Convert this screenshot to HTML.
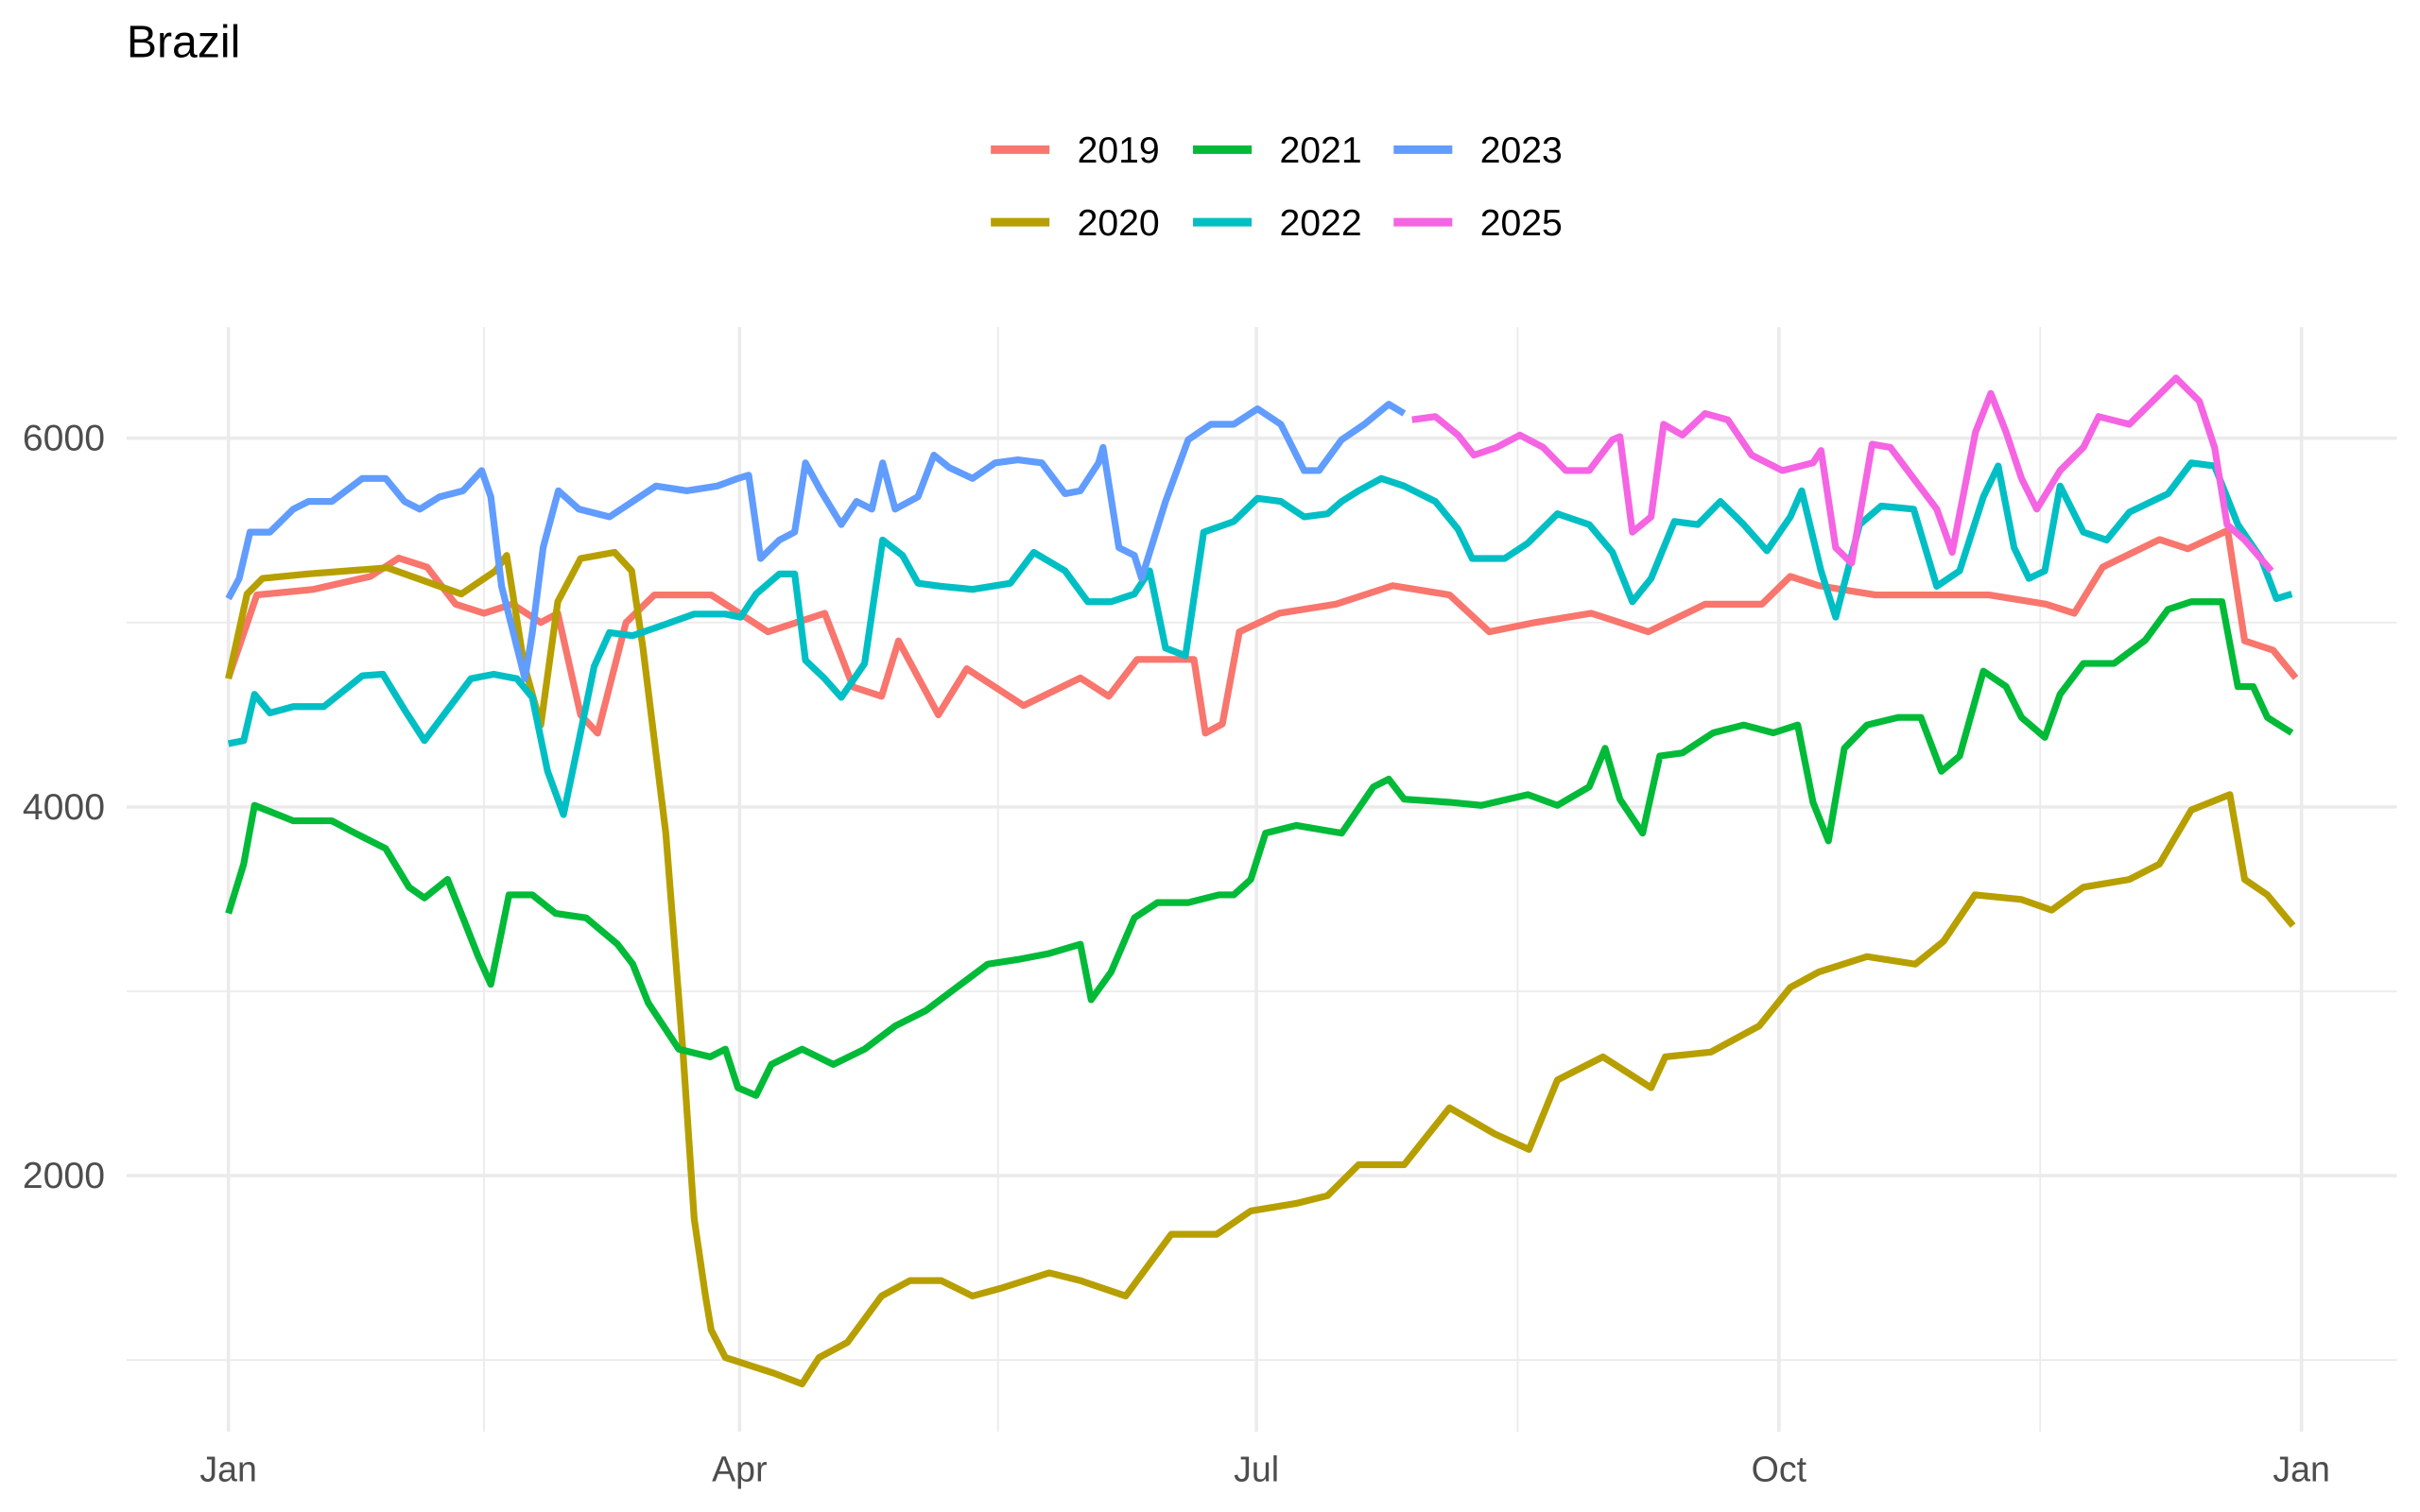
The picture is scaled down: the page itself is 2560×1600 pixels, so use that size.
<!DOCTYPE html>
<html><head><meta charset="utf-8"><style>
html,body{margin:0;padding:0;background:#fff;}
svg{display:block;font-family:"Liberation Sans",sans-serif;}
</style></head><body>
<svg id="chart" width="2560" height="1600" viewBox="0 0 1568 980" xmlns="http://www.w3.org/2000/svg">
<rect width="1568" height="980" fill="#fff"/>
<text x="82" y="37" font-size="29.5" fill="#000">Brazil</text>
<g id="grid"></g>
<g id="series"></g>
<g id="axes"></g>
<g id="legend"></g>
</svg>
<script>
const years = ["2019","2020","2021","2022","2023","2025"];
const colors = ["#F8766D","#B79F00","#00BA38","#00BFC4","#619CFF","#F564E3"];
const yTicks = [2000,4000,6000];
const yMinor = [1000,3000,5000];
const xTickLabels = ["Jan","Apr","Jul","Oct","Jan"];
const xTickDays = [0,90,181,273,365];
const xMinorDays = [45,135.5,227,319];

const days2019 = [0,5,15,25,30,35,40,45,50,55,58,62,65,70,75,85,90,95,105,110,115,118,125,130,140,150,155,160,165,170,172,175,178,185,195,205,215,222,230,240,250,260,270,275,280,290,310,320,325,330,340,345,352,355,360,364];
const vals2019 = [4700,5150,5180,5250,5350,5300,5100,5050,5100,5000,5050,4500,4400,5000,5150,5150,5050,4950,5050,4650,4600,4900,4500,4750,4550,4700,4600,4800,4800,4800,4400,4450,4950,5050,5100,5200,5150,4950,5000,5050,4950,5100,5100,5250,5200,5150,5150,5100,5050,5300,5450,5400,5500,4900,4850,4700];

const days2020 = [0,3.3,6,14,28,41,47,49,52,55,58,62,68,71,73,77,80,82,84,85,87.5,96,101,104,109,115,120,125.5,131,136,144.5,150,158,166,174,180,188,193.5,199,207,215,223,229,234,242,250.5,253,261,269.5,275,280,288.5,297,302,307.5,315.7,321,326.6,334.7,340,345.6,352.4,355,359,363.5];
const vals2020 = [4695,5155,5239,5264,5297,5155,5280,5364,4778,4444,5113,5347,5381,5280,4862,3858,2686,1766,1347,1163,1013,929,870,1013,1096,1347,1431,1431,1347,1389,1473,1431,1347,1682,1682,1808,1849,1891,2059,2059,2368,2226,2142,2519,2644,2477,2644,2670,2812,3021,3105,3188,3147,3272,3523,3498,3440,3565,3607,3690,3983,4067,3607,3523,3356];

const days2021 = [0,2.7,4.6,11.4,18.2,22.3,27.7,31.8,34.5,38.6,41.3,44,46.2,49.4,53.5,57.6,63,68.5,71.2,73.9,79.3,84.8,87.5,89.7,92.9,95.6,101,106.5,112,117.4,122.8,128.2,133.7,139,144.5,150,151.9,155.4,159.5,163.6,169,174.4,177,180,182.6,188,196,201.6,204.3,207,215,220.6,228.8,234,239.6,242.4,245,249,252,256,261.4,266.8,272,276.3,279,281.7,284.5,288.5,294,298,301.6,304.8,309,313,315.7,319.8,322.5,326.6,332,337.5,341.5,345.6,351,353.8,356.5,359,363.3];
const vals2021 = [3423,3690,4008,3925,3925,3858,3774,3565,3506,3607,3398,3188,3038,3523,3523,3423,3398,3255,3147,2937,2686,2644,2686,2477,2435,2603,2686,2603,2686,2812,2895,3021,3147,3172,3205,3255,2954,3105,3398,3481,3481,3523,3523,3607,3858,3900,3858,4109,4151,4042,4025,4008,4067,4008,4109,4318,4042,3858,4276,4293,4402,4444,4402,4444,4025,3816,4318,4444,4485,4485,4193,4276,4736,4653,4485,4377,4611,4778,4778,4904,5071,5113,5113,4653,4653,4485,4402];

const days2022 = [0,2.7,4.6,7.3,11.4,16.8,23.6,27.2,31,34.5,38.6,42.7,46.7,50.8,53.5,56.2,59,61.7,64.4,67.1,71.2,76.6,82,87.5,90.2,92.9,97,99.7,101.6,105,107.9,112,115.2,118.7,121.4,125.5,131,137.7,141.8,147.3,151.3,155.4,159.5,162.2,165,168.5,171.7,177,181.2,185.3,189.4,193.5,196,199,203,207,212.5,216.5,219,224.7,228.8,234,239.6,243.7,247.2,250.5,254.6,258.7,262.7,266.8,270.9,275,277,280.4,283,287.2,291,296.7,300.8,304.8,309,311.6,314.4,317,319.8,322.5,326.6,330.7,334.7,341.5,345.6,349.7,353.8,357.9,360.6,363.3];
const vals2022 = [4343,4360,4611,4510,4544,4544,4711,4720,4527,4360,4527,4695,4720,4695,4594,4193,3958,4360,4762,4946,4929,4987,5046,5046,5029,5155,5264,5264,4795,4695,4594,4778,5448,5364,5213,5197,5180,5213,5381,5280,5113,5113,5155,5280,4862,4820,5490,5548,5674,5657,5573,5590,5657,5715,5782,5741,5657,5506,5347,5347,5431,5590,5531,5381,5113,5239,5548,5531,5657,5531,5389,5573,5715,5280,5029,5531,5632,5615,5197,5280,5682,5849,5406,5239,5280,5741,5490,5448,5598,5699,5866,5849,5531,5347,5130,5155];

const days2023 = [0,1.9,3.8,7.3,11.4,14.1,18.2,23.6,27.7,31,33.7,37.2,41.3,44.6,46.2,48.1,52.2,53.5,55.4,58.1,61.7,67.1,71.2,75.3,80.7,86.1,89.7,91.6,93.7,97,99.7,101.6,104.3,107.9,110.6,113.3,115.2,117.4,121.4,124.2,126.9,131,135,139,143.2,147.3,150,153.2,154,156.8,159.5,160.8,165,169,173,177,181.2,185.3,189.4,192,196,200,204.3,207];
const vals2023 = [5130,5239,5490,5490,5615,5657,5657,5782,5782,5657,5615,5682,5715,5824,5682,5197,4695,4946,5406,5715,5615,5573,5657,5741,5715,5741,5782,5799,5347,5448,5490,5866,5715,5531,5657,5615,5866,5615,5682,5908,5841,5782,5866,5883,5866,5699,5715,5866,5950,5406,5364,5239,5657,5992,6075,6075,6159,6075,5824,5824,5992,6075,6184,6134];

const days2025 = [208.4,212.5,216.5,219.3,223.3,227.4,231.5,235.5,239.6,243.7,245,247.2,250.5,252.7,256,260,264,268.2,273.6,279,280.4,283,285.8,289.4,292.6,296.7,300.8,303.5,307.6,310.3,313,315.7,318.4,322.5,326.6,329.3,334.7,338.8,342.9,347,349.7,351.9,355,359.7];
const vals2025 = [6100,6117,6017,5908,5950,6017,5950,5824,5824,5992,6008,5490,5573,6075,6017,6134,6100,5908,5824,5866,5933,5406,5322,5967,5950,5782,5615,5381,6033,6243,6033,5782,5615,5824,5950,6117,6075,6201,6326,6201,5950,5531,5448,5280];

const seriesDays = [days2019,days2020,days2021,days2022,days2023,days2025];
const seriesVals = [vals2019,vals2020,vals2021,vals2022,vals2023,vals2025];

const NS = "http://www.w3.org/2000/svg";
function xs(d){ return 148 + d*3.68; }
function ys(v){ return 284 + (6000 - v)*0.1195; }
function mk(tag, attrs, parent){
  const e = document.createElementNS(NS, tag);
  for (const k in attrs) e.setAttribute(k, attrs[k]);
  parent.appendChild(e);
  return e;
}
const grid = document.getElementById("grid");
const axes = document.getElementById("axes");
const L = 82, R = 1553, T = 212, B = 928;
yMinor.forEach(v => {
  const l = mk("line", {x1:L, x2:R, y1:ys(v), y2:ys(v), stroke:"#ebebeb", "stroke-width":1.1}, grid);
  
  
});
xMinorDays.forEach(d => {
  const l = mk("line", {x1:xs(d), x2:xs(d), y1:T, y2:B, stroke:"#ebebeb", "stroke-width":1.1}, grid);
  
  
});
yTicks.forEach(v => {
  const l = mk("line", {x1:L, x2:R, y1:ys(v), y2:ys(v), stroke:"#ebebeb", "stroke-width":2.2}, grid);
  
  
  const t = mk("text", {x:68, y:ys(v)+8, "text-anchor":"end", "font-size":24, fill:"#4d4d4d"}, axes);
  t.textContent = v;
  
  
});
xTickDays.forEach((d,i) => {
  const l = mk("line", {x1:xs(d), x2:xs(d), y1:T, y2:B, stroke:"#ebebeb", "stroke-width":2.2}, grid);
  
  
  const t = mk("text", {x:xs(d), y:960, "text-anchor":"middle", "font-size":23, fill:"#4d4d4d"}, axes);
  t.textContent = xTickLabels[i];
  
  
});
const sg = document.getElementById("series");
seriesVals.forEach((vals, s) => {
  const pts = vals.map((v,i) => xs(seriesDays[s][i]).toFixed(1) + "," + ys(v).toFixed(1)).join(" ");
  const p = mk("polyline", {points:pts, fill:"none", stroke:colors[s], "stroke-width":4.4, "stroke-linejoin":"round", "stroke-linecap":"butt"}, sg);
  
  
});
const lg = document.getElementById("legend");
const colX = [642, 773, 903];
const rowY = [97, 144];
years.forEach((yr, i) => {
  const c = Math.floor(i/2), r = i%2;
  const g = mk("g", {}, lg);
  
  
  mk("line", {x1:colX[c], x2:colX[c]+38, y1:rowY[r], y2:rowY[r], stroke:colors[i], "stroke-width":5.5}, g);
  const t = mk("text", {x:colX[c]+56, y:rowY[r]+8.5, "font-size":24, fill:"#000"}, g);
  t.textContent = yr;
});
</script>
</body></html>
